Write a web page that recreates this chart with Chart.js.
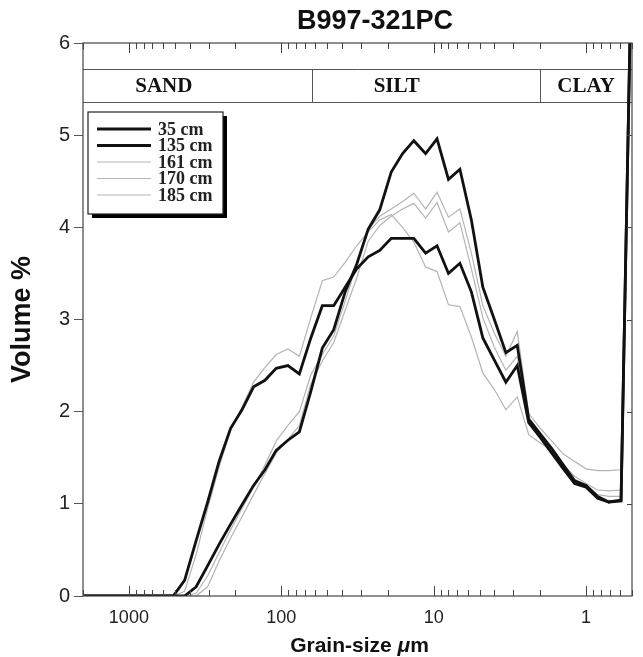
<!DOCTYPE html>
<html lang="en">
<head>
<meta charset="UTF-8">
<title>B997-321PC</title>
<script src="https://cdn.jsdelivr.net/npm/chart.js"></script>
<style>
  body { margin: 0; background: #fff; }
  canvas { display: block; }
</style>
</head>
<body>
<canvas id="grainChart" width="643" height="657"></canvas>
<script>
// grain-size classes in µm, coarse to fine
const sizes = [2048, 1722, 1448, 1218, 1024, 861, 724, 609, 512, 431, 362, 304, 256, 215, 181, 152, 128, 108, 90.5, 76.1,
  64, 53.8, 45.3, 38.1, 32, 26.9, 22.6, 19, 16, 13.5, 11.3, 9.51, 8, 6.73, 5.66, 4.76, 4, 3.36, 2.83, 2.38,
  2, 1.68, 1.41, 1.19, 1, 0.84, 0.71, 0.59, 0.5];

// volume % per class for each depth
const cm35 = [0, 0, 0, 0, 0, 0, 0, 0, 0,
  0, 0.1, 0.33, 0.56, 0.78, 0.99, 1.2, 1.37, 1.58, 1.69, 1.78, 2.22, 2.69, 2.89, 3.3, 3.6, 3.98, 4.19, 4.6, 4.8,
  4.94, 4.8, 4.96, 4.52, 4.63, 4.08, 3.35, 3.0, 2.64, 2.72, 1.92, 1.76, 1.6, 1.42, 1.25, 1.2, 1.08, 1.02, 1.04, 7.2];
const cm135 = [0, 0, 0, 0, 0, 0, 0, 0, 0,
  0.17, 0.6, 1.02, 1.46, 1.82, 2.02, 2.27, 2.34, 2.47, 2.5, 2.41, 2.8, 3.15, 3.15, 3.35, 3.55, 3.68, 3.75, 3.88, 3.88,
  3.88, 3.72, 3.8, 3.5, 3.61, 3.3, 2.8, 2.56, 2.32, 2.5, 1.88, 1.72, 1.55, 1.38, 1.22, 1.18, 1.06, 1.02, 1.03, 7.2];
const cm161 = [0, 0, 0, 0, 0, 0, 0, 0, 0,
  0.05, 0.45, 0.95, 1.4, 1.8, 2.05, 2.32, 2.48, 2.62, 2.68, 2.6, 3.02, 3.42, 3.46, 3.62, 3.8, 3.95, 4.08, 4.14, 4.0,
  3.84, 3.57, 3.52, 3.16, 3.14, 2.81, 2.42, 2.24, 2.02, 2.16, 1.75, 1.66, 1.58, 1.43, 1.27, 1.2, 1.1, 1.08, 1.08, 7.2];
const cm170 = [0, 0, 0, 0, 0, 0, 0, 0, 0,
  0, 0.03, 0.22, 0.47, 0.72, 0.95, 1.18, 1.42, 1.68, 1.85, 2.0, 2.4, 2.62, 2.82, 3.2, 3.6, 3.98, 4.12, 4.2, 4.28,
  4.37, 4.2, 4.38, 4.11, 4.2, 3.72, 3.15, 2.85, 2.6, 2.87, 1.98, 1.82, 1.68, 1.54, 1.46, 1.38, 1.36, 1.36, 1.37, 7.2];
const cm185 = [0, 0, 0, 0, 0, 0, 0, 0, 0,
  0, 0, 0.1, 0.38, 0.63, 0.86, 1.1, 1.33, 1.55, 1.7, 1.85, 2.3, 2.55, 2.75, 3.1, 3.45, 3.85, 4.02, 4.12, 4.2,
  4.26, 4.1, 4.27, 3.95, 4.05, 3.55, 3.02, 2.7, 2.45, 2.6, 1.9, 1.75, 1.6, 1.42, 1.3, 1.22, 1.15, 1.14, 1.15, 7.2];

const seriesLabels = ['35 cm', '135 cm', '161 cm', '170 cm', '185 cm'];
const xTickLabels = [1000, 100, 10, 1];
const xRange = [0.5, 2000];
const yRange = [0, 6];

// grain-size classes band at the top of the plot
const bandNames = ['SAND', 'SILT', 'CLAY'];
const bandEdges = [2000, 63, 2, 0.5];
const bandLabelAt = [590, 17.5, 1];
const bandRange = [5.36, 5.72];

const serif = '"Liberation Serif", "Times New Roman", serif';
const sans = '"Liberation Sans", Arial, sans-serif';

function series(label, values, thick) {
  return {
    label: label,
    data: sizes.map((s, i) => ({ x: s, y: values[i] })),
    borderColor: thick ? '#111' : '#b4b4b4',
    borderWidth: thick ? 2.8 : 1.2,
    pointRadius: 0,
    tension: 0
  };
}

const decorations = {
  id: 'decorations',
  beforeDatasetsDraw(chart) {
    const { ctx, chartArea: a, scales: { x, y } } = chart;
    const top = Math.round(y.getPixelForValue(bandRange[1])) + 0.5;
    const bot = Math.round(y.getPixelForValue(bandRange[0])) + 0.5;
    ctx.save();
    ctx.strokeStyle = '#555';
    ctx.lineWidth = 1;
    ctx.beginPath();
    ctx.moveTo(a.left, top); ctx.lineTo(a.right, top);
    ctx.moveTo(a.left, bot); ctx.lineTo(a.right, bot);
    bandEdges.slice(1, -1).forEach(v => {
      const px = Math.round(x.getPixelForValue(v)) + 0.5;
      ctx.moveTo(px, top); ctx.lineTo(px, bot);
    });
    ctx.stroke();
    ctx.font = 'bold 21px ' + serif;
    ctx.fillStyle = '#111';
    ctx.textAlign = 'center';
    ctx.textBaseline = 'middle';
    bandNames.forEach((n, i) => ctx.fillText(n, x.getPixelForValue(bandLabelAt[i]), (top + bot) / 2 + 1));
    ctx.restore();
  },
  afterDraw(chart) {
    const { ctx, chartArea: a, scales: { x, y } } = chart;
    ctx.save();
    // frame
    ctx.strokeStyle = '#444';
    ctx.lineWidth = 1.2;
    ctx.strokeRect(a.left, a.top, a.right - a.left, a.bottom - a.top);

    // log ticks on top and bottom, pointing inward
    ctx.lineWidth = 1;
    ctx.beginPath();
    [1000, 100, 10, 1, 0.1].forEach(d => {
      for (let m = 1; m <= 9; m++) {
        const v = m * d;
        if (v < xRange[0] - 1e-9 || v > xRange[1] + 1e-9) continue;
        const px = Math.round(x.getPixelForValue(v)) + 0.5;
        const len = m === 1 ? 10 : 6;
        ctx.moveTo(px, a.top); ctx.lineTo(px, a.top + len);
        ctx.moveTo(px, a.bottom); ctx.lineTo(px, a.bottom - len);
      }
    });
    // right-hand ticks
    for (let v = yRange[0] + 1; v < yRange[1]; v++) {
      const py = Math.round(y.getPixelForValue(v)) + 0.5;
      ctx.moveTo(a.right, py); ctx.lineTo(a.right - 5, py);
    }
    ctx.stroke();

    // legend with drop shadow
    const lx = 88, ly = 112, lw = 135, lh = 102;
    ctx.fillStyle = '#000';
    ctx.fillRect(lx + 4, ly + 4, lw, lh);
    ctx.fillStyle = '#fff';
    ctx.fillRect(lx, ly, lw, lh);
    ctx.strokeStyle = '#222';
    ctx.lineWidth = 1.2;
    ctx.strokeRect(lx, ly, lw, lh);
    ctx.font = 'bold 18px ' + serif;
    ctx.textAlign = 'left';
    ctx.textBaseline = 'middle';
    chart.data.datasets.forEach((ds, i) => {
      const ry = ly + 17 + i * 16.5;
      ctx.strokeStyle = ds.borderColor;
      ctx.lineWidth = ds.borderWidth;
      ctx.beginPath();
      ctx.moveTo(lx + 9, ry); ctx.lineTo(lx + 63, ry);
      ctx.stroke();
      ctx.fillStyle = '#222';
      ctx.fillText(ds.label, lx + 70, ry + 1);
    });

    // x axis title with an italic mu
    const parts = [['Grain-size ', 'bold '], ['μ', 'italic bold '], ['m', 'bold ']];
    let w = 0;
    parts.forEach(p => { ctx.font = p[1] + '21px ' + sans; w += ctx.measureText(p[0]).width; });
    let tx = (a.left + a.right) / 2 + 2 - w / 2;
    ctx.fillStyle = '#111';
    ctx.textAlign = 'left';
    ctx.textBaseline = 'middle';
    parts.forEach(p => {
      ctx.font = p[1] + '21px ' + sans;
      ctx.fillText(p[0], tx, 646);
      tx += ctx.measureText(p[0]).width;
    });

    // title
    ctx.font = 'bold 27px ' + sans;
    ctx.textAlign = 'center';
    ctx.fillText('B997-321PC', 375, 22);
    ctx.restore();
  }
};

new Chart(document.getElementById('grainChart'), {
  type: 'line',
  data: {
    datasets: [
      series(seriesLabels[0], cm35, true),
      series(seriesLabels[1], cm135, true),
      series(seriesLabels[2], cm161, false),
      series(seriesLabels[3], cm170, false),
      series(seriesLabels[4], cm185, false)
    ]
  },
  options: {
    responsive: false,
    animation: false,
    layout: { padding: { top: 43, right: 6, bottom: 0, left: 0 } },
    plugins: {
      legend: { display: false },
      tooltip: { enabled: false }
    },
    scales: {
      x: {
        type: 'logarithmic',
        reverse: true,
        min: xRange[0],
        max: xRange[1],
        grid: { display: false, drawTicks: false },
        border: { display: false },
        ticks: {
          autoSkip: false,
          maxRotation: 0,
          padding: 11,
          color: '#222',
          font: { family: sans, size: 18 },
          callback: v => {
            const hit = xTickLabels.find(t => Math.abs(t - v) < t * 1e-6);
            return hit !== undefined ? String(hit) : '';
          }
        },
        afterFit: s => { s.height = 61; }
      },
      y: {
        min: yRange[0],
        max: yRange[1],
        grid: { drawOnChartArea: false, drawTicks: true, tickLength: 9, color: '#555' },
        border: { display: false },
        ticks: {
          stepSize: 1,
          padding: 4,
          color: '#222',
          font: { family: sans, size: 20 }
        },
        title: {
          display: true,
          text: 'Volume %',
          color: '#111',
          font: { family: sans, size: 27, weight: 'bold', lineHeight: 1 },
          padding: { top: 9, bottom: 0 }
        },
        afterFit: s => { s.width = 83; }
      }
    }
  },
  plugins: [decorations]
});
</script>
</body>
</html>
